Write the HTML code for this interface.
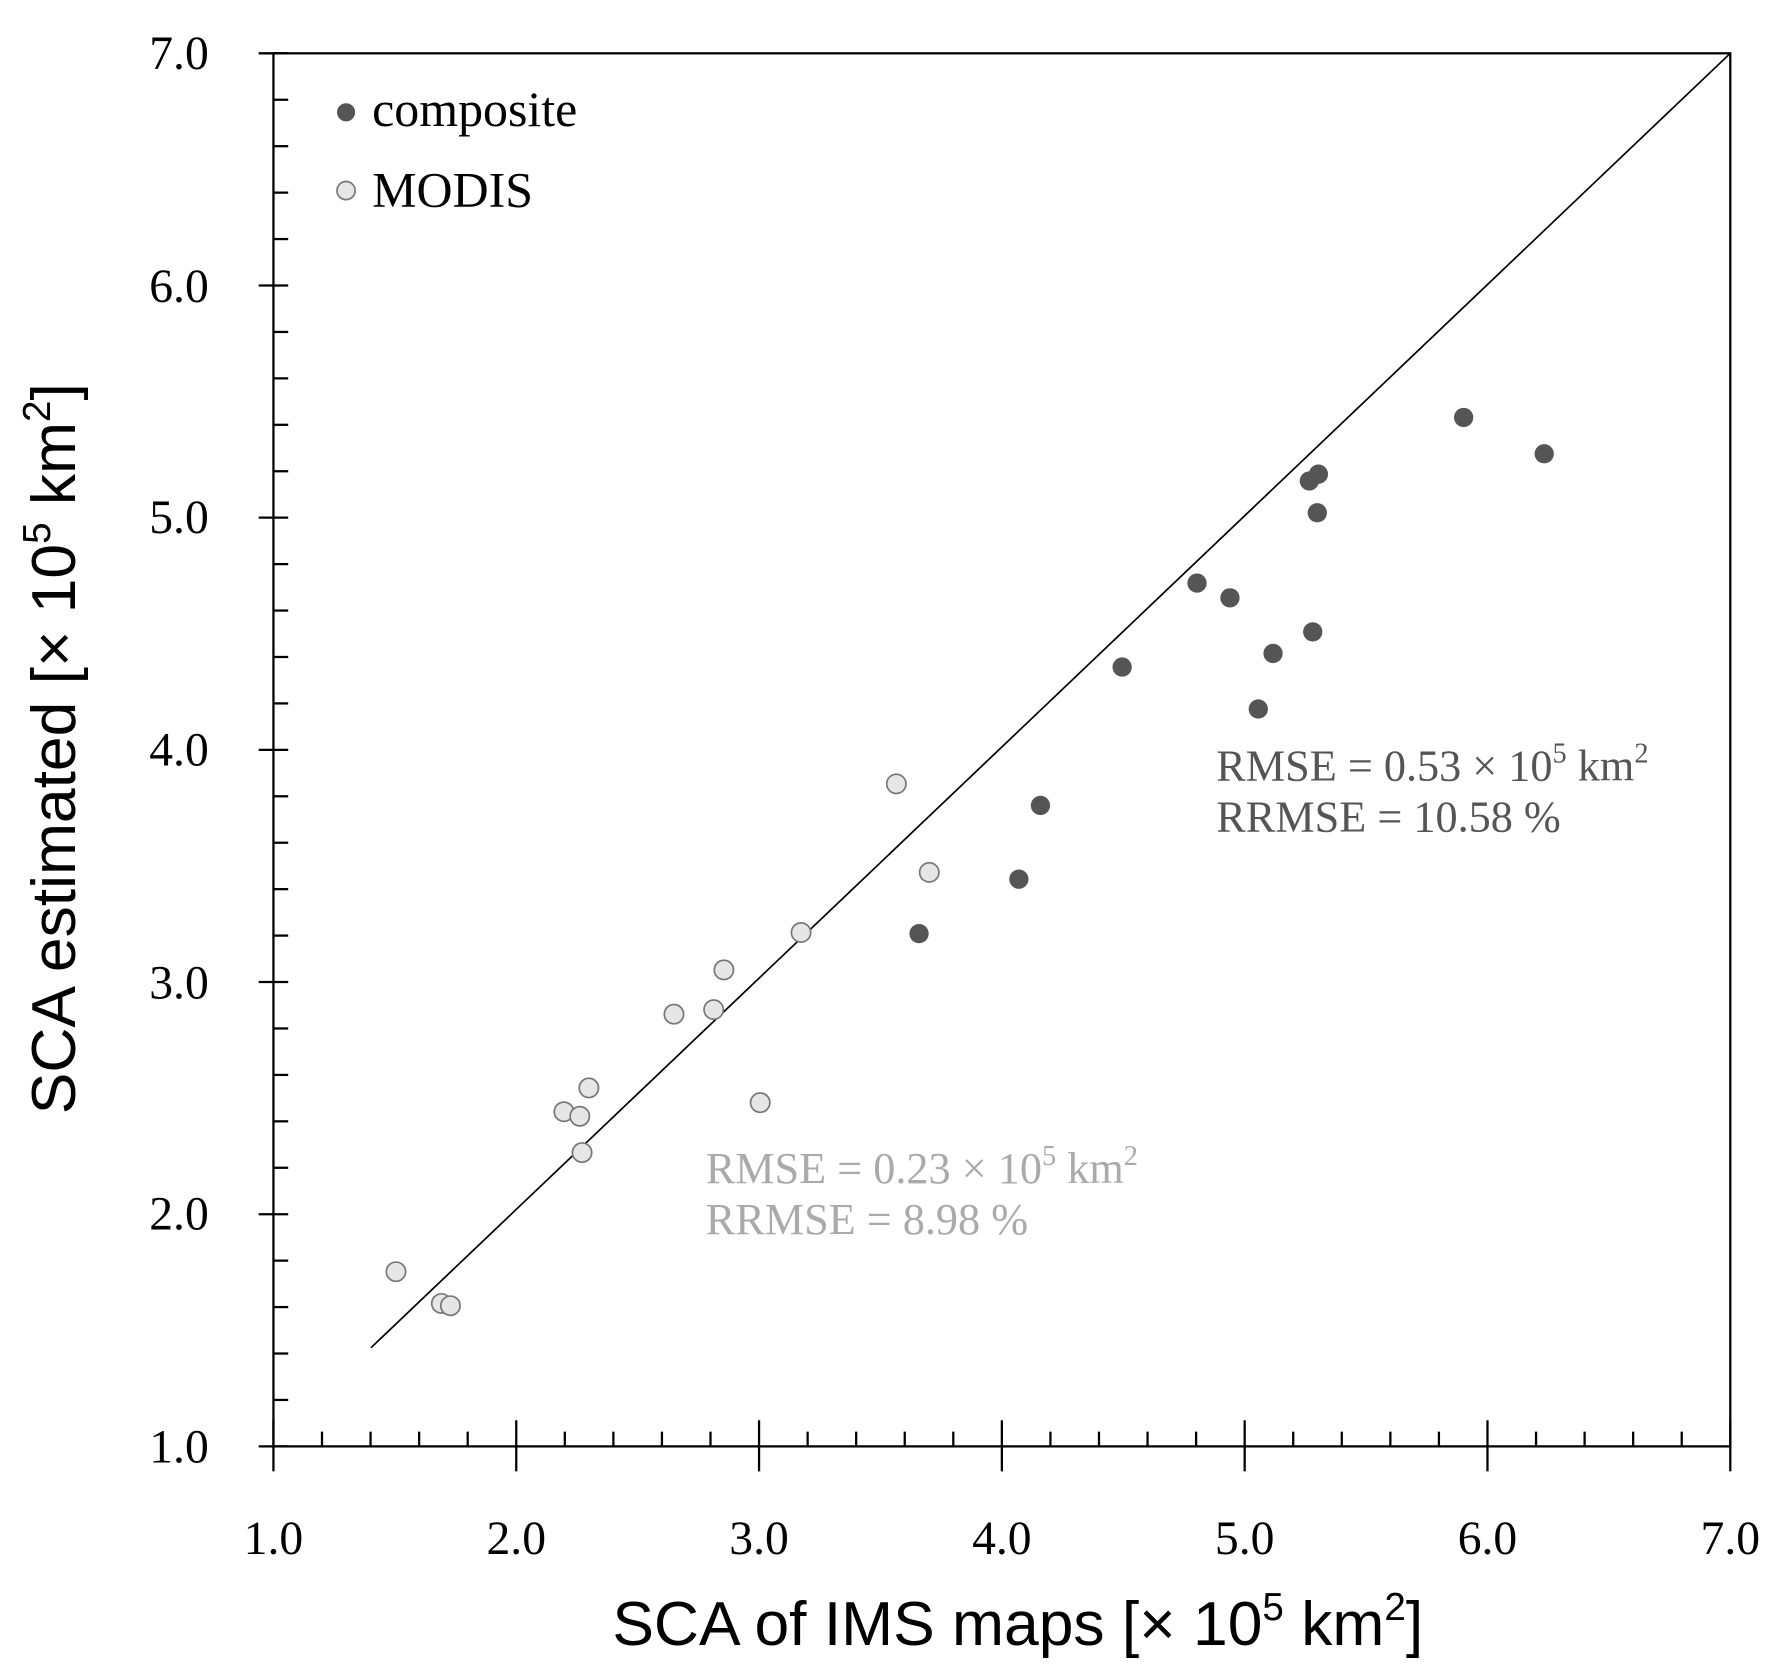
<!DOCTYPE html>
<html><head><meta charset="utf-8"><style>html,body{margin:0;padding:0;background:#fff}svg{display:block}</style></head>
<body>
<svg width="1770" height="1671" viewBox="0 0 1560 1473" preserveAspectRatio="none" xmlns="http://www.w3.org/2000/svg">
<rect width="1560" height="1473" fill="#fff"/>
<g stroke="#000" stroke-width="2" fill="none">
<rect x="241" y="47" width="1284" height="1228"/>
</g>
<g id="tk" stroke="#000" stroke-width="2"></g>
<line x1="327" y1="1188" x2="1525" y2="47" stroke="#000" stroke-width="1.5"/>
<g id="pts"></g>
<g font-family="Liberation Serif, serif" font-size="42" fill="#000">
<g text-anchor="end">
<text x="184" y="61">7.0</text><text x="184" y="266">6.0</text><text x="184" y="470">5.0</text>
<text x="184" y="675">4.0</text><text x="184" y="880">3.0</text><text x="184" y="1084">2.0</text><text x="184" y="1289">1.0</text>
</g>
<g text-anchor="middle">
<text x="241" y="1370">1.0</text><text x="455" y="1370">2.0</text><text x="669" y="1370">3.0</text><text x="883" y="1370">4.0</text>
<text x="1097" y="1370">5.0</text><text x="1311" y="1370">6.0</text><text x="1525" y="1370">7.0</text>
</g>
<text x="328" y="111" font-size="44">composite</text>
<text x="328" y="182" font-size="44">MODIS</text>
<g fill="#555" font-size="39">
<text x="1072" y="688">RMSE = 0.53 × 10<tspan font-size="25" dy="-16">5</tspan><tspan dy="16"> km</tspan><tspan font-size="25" dy="-16">2</tspan></text>
<text x="1072" y="733">RRMSE = 10.58 %</text>
</g>
<g fill="#aaa" font-size="39">
<text x="622" y="1043">RMSE = 0.23 × 10<tspan font-size="25" dy="-16">5</tspan><tspan dy="16"> km</tspan><tspan font-size="25" dy="-16">2</tspan></text>
<text x="622" y="1088">RRMSE = 8.98 %</text>
</g>
</g>
<g font-family="Liberation Sans, sans-serif" font-size="55" fill="#000">
<text x="897" y="1450" text-anchor="middle">SCA of IMS maps [× 10<tspan font-size="34" dy="-22">5</tspan><tspan dy="22"> km</tspan><tspan font-size="34" dy="-22">2</tspan><tspan dy="22">]</tspan></text>
<text transform="translate(66,660) rotate(-90)" text-anchor="middle">SCA estimated [× 10<tspan font-size="34" dy="-22">5</tspan><tspan dy="22"> km</tspan><tspan font-size="34" dy="-22">2</tspan><tspan dy="22">]</tspan></text>
</g>
<circle cx="305" cy="99" r="8" fill="#555"/>
<circle cx="305" cy="168" r="8" fill="#e6e6e6" stroke="#777" stroke-width="1.5"/>
<script>
var ns="http://www.w3.org/2000/svg",tk=document.getElementById("tk"),pts=document.getElementById("pts");
function L(a,b,c,d){var l=document.createElementNS(ns,"line");l.setAttribute("x1",a);l.setAttribute("y1",b);l.setAttribute("x2",c);l.setAttribute("y2",d);tk.appendChild(l);}
for(var i=0;i<=30;i++){var x=241+i*1284/30,y=1275-i*1228/30;
if(i%5==0){L(x,1252,x,1297);L(228,y,254,y);}else{L(x,1262,x,1275);L(241,y,254,y);}}
var C=[[1290,368],[1361,400],[1162,418],[1154,424],[1161,452],[1055,514],[1084,527],[989,588],[1157,557],[1122,576],[1109,625],[917,710],[898,775],[810,823]];
var M=[[790,691],[819,769],[706,822],[638,855],[594,894],[629,890],[519,959],[497,980],[511,984],[513,1016],[670,972],[349,1121],[389,1149],[397,1151]];
function P(p,f,s){var c=document.createElementNS(ns,"circle");c.setAttribute("cx",p[0]);c.setAttribute("cy",p[1]);c.setAttribute("r",8.5);c.setAttribute("fill",f);if(s){c.setAttribute("stroke",s);c.setAttribute("stroke-width",1.5);}pts.appendChild(c);}
M.forEach(function(p){P(p,"#e6e6e6","#777");});C.forEach(function(p){P(p,"#555");});
</script>
</svg>
</body></html>
